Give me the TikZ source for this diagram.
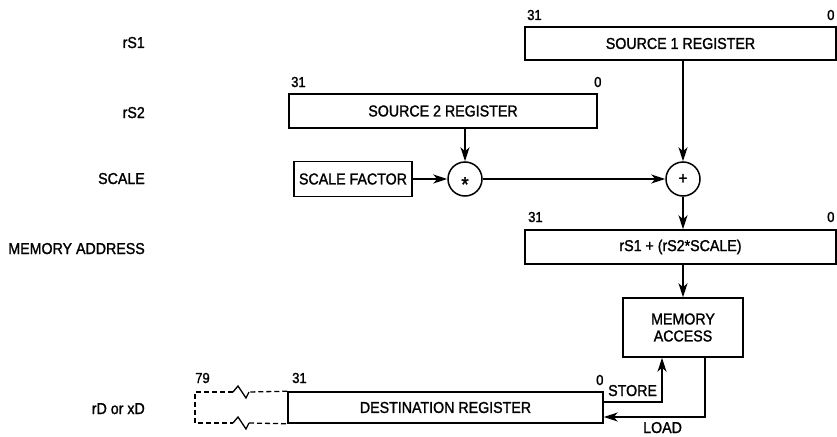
\documentclass[tikz,border=0pt]{standalone}
\usepackage{fontspec}
\setmainfont{Liberation Sans}[FakeStretch=0.9,FakeBold=1.4]
\usetikzlibrary{arrows.meta}
\newcommand\mainfs{\fontsize{15.8}{17}\selectfont}
\newcommand\numfs{\fontsize{14.5}{15}\selectfont}
\begin{document}
\begin{tikzpicture}[x=1pt,y=-1pt,
  reg/.style={draw,line width=1.5pt,rectangle,inner sep=0pt,font=\mainfs,align=center},
  opc/.style={draw,line width=1.5pt,circle,inner sep=0pt,minimum size=34pt,font=\mainfs},
  arr/.style={line width=1.3pt,-{Stealth[length=14pt,width=9pt,inset=4pt]}},
  lbl/.style={inner sep=0pt,anchor=base east,font=\mainfs},
  num/.style={inner sep=0pt,anchor=base west,font=\numfs},
  txt/.style={inner sep=0pt,anchor=base west,font=\mainfs},
  dashline/.style={line width=1.3pt,dash pattern=on 5pt off 3pt},
  brk/.style={line width=1.3pt,line join=miter}]
\useasboundingbox (0,0) rectangle (837,436);
\clip (0,0) rectangle (837,436);

% left labels
\node[lbl] (l1) at (145,48) {rS1};
\node[lbl] (l2) at (145,118) {rS2};
\node[lbl] (l3) at (145,184) {SCALE};
\node[lbl] (l4) at (145,254) {MEMORY ADDRESS};
\node[lbl] (l5) at (145,414) {rD or xD};

% registers
\node[reg,minimum width=311pt,minimum height=33pt] (s1) at (680.5,43.5) {SOURCE 1 REGISTER};
\node[reg,minimum width=308pt,minimum height=34pt] (s2) at (443,111) {SOURCE 2 REGISTER};
\node[reg,minimum width=118pt,minimum height=35pt] (sf) at (353,179) {SCALE FACTOR};
\node[opc] (mul) at (465,179) {\fontsize{21}{21}\selectfont\raisebox{-0.6em}[0pt][0pt]{*}};
\node[opc] (add) at (683,179) {\fontsize{17}{17}\selectfont +};
\node[reg,minimum width=311pt,minimum height=34pt] (ma) at (680.5,247) {rS1 + (rS2*SCALE)};
\node[reg,minimum width=120pt,minimum height=59pt] (mem) at (683,327.5) {MEMORY\\ACCESS};
\node[reg,minimum width=315pt,minimum height=31pt] (dst) at (445.5,407.5) {DESTINATION REGISTER};

% bit numbers
\node[num] (n1a) at (527,20) {31};
\node[num] (n1b) at (827,20) {0};
\node[num] (n2a) at (291,87) {31};
\node[num] (n2b) at (594,87) {0};
\node[num] (n3a) at (528,222) {31};
\node[num] (n3b) at (827,222) {0};
\node[num] (n4a) at (195,383) {79};
\node[num] (n4b) at (292,383) {31};
\node[num] (n4c) at (596,385) {0};

% connectors
\draw[arr] (s2.south -| mul) -- (mul.north);
\draw[arr] (sf.east) -- (mul.west);
\draw[arr] (mul.east) -- (add.west);
\draw[arr] (s1.south -| add) -- (add.north);
\draw[arr] (add.south) -- (add.south |- ma.north);
\draw[arr] (ma.south -| mem) -- (mem.north);
\draw[arr] ([yshift=5.5pt]dst.east) -| ([xshift=-21pt]mem.south);
\draw[arr] ([xshift=22pt]mem.south) |- ([yshift=-9.5pt]dst.east);
\node[txt] (store) at (608,396) {STORE};
\node[txt] (load) at (643,433) {LOAD};

% dashed extension
\coordinate (t1) at (233,392);
\coordinate (t2) at (249,392);
\coordinate (b1) at (233,423);
\coordinate (b2) at (249,423);
\draw[dashline] (dst.north west) -- (t2);
\draw[dashline] (t1) -- (195,392) -- (195,423) -- (b1);
\draw[dashline] (b2) -- (dst.south west);
\draw[brk] (t1) -- (238,386) -- (246,398) -- (t2);
\draw[brk] (b1) -- (238,417) -- (246,429) -- (b2);
\end{tikzpicture}
\end{document}
